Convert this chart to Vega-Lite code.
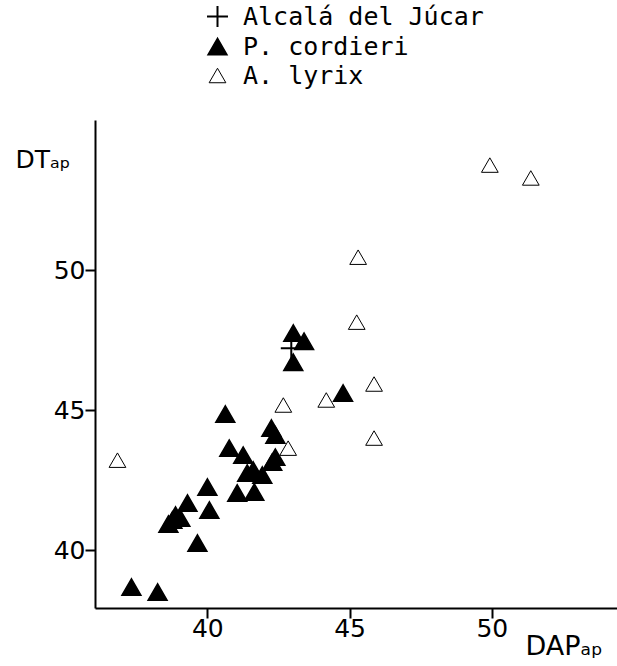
{
  "$schema": "https://vega.github.io/schema/vega-lite/v6.json",
  "width": 522,
  "height": 488,
  "autosize": {"type": "none"},
  "padding": {"left": 95, "top": 120, "right": 0, "bottom": 58},
  "background": "white",
  "config": {"view": {"stroke": null}, "axis": {"ticks": true, "tickOpacity": 1, "tickColor": "black", "tickWidth": 2}},
  "data": {
    "values": [
      {"taxon": "P. cordieri", "dap": 43.02, "dt": 47.75},
      {"taxon": "P. cordieri", "dap": 43.40, "dt": 47.46},
      {"taxon": "P. cordieri", "dap": 43.02, "dt": 46.71},
      {"taxon": "P. cordieri", "dap": 44.77, "dt": 45.61},
      {"taxon": "P. cordieri", "dap": 40.63, "dt": 44.86},
      {"taxon": "P. cordieri", "dap": 42.25, "dt": 44.36},
      {"taxon": "P. cordieri", "dap": 42.39, "dt": 44.11},
      {"taxon": "P. cordieri", "dap": 40.77, "dt": 43.64},
      {"taxon": "P. cordieri", "dap": 41.26, "dt": 43.39},
      {"taxon": "P. cordieri", "dap": 42.39, "dt": 43.32},
      {"taxon": "P. cordieri", "dap": 42.28, "dt": 43.14},
      {"taxon": "P. cordieri", "dap": 41.40, "dt": 42.75},
      {"taxon": "P. cordieri", "dap": 41.61, "dt": 42.86},
      {"taxon": "P. cordieri", "dap": 41.93, "dt": 42.68},
      {"taxon": "P. cordieri", "dap": 40.00, "dt": 42.25},
      {"taxon": "P. cordieri", "dap": 41.05, "dt": 42.04},
      {"taxon": "P. cordieri", "dap": 41.65, "dt": 42.07},
      {"taxon": "P. cordieri", "dap": 39.30, "dt": 41.68},
      {"taxon": "P. cordieri", "dap": 40.07, "dt": 41.43},
      {"taxon": "P. cordieri", "dap": 38.88, "dt": 41.25},
      {"taxon": "P. cordieri", "dap": 38.77, "dt": 41.07},
      {"taxon": "P. cordieri", "dap": 39.05, "dt": 41.14},
      {"taxon": "P. cordieri", "dap": 38.63, "dt": 40.93},
      {"taxon": "P. cordieri", "dap": 39.65, "dt": 40.25},
      {"taxon": "P. cordieri", "dap": 37.33, "dt": 38.68},
      {"taxon": "P. cordieri", "dap": 38.25, "dt": 38.50},
      {"taxon": "Alcalá del Júcar", "dap": 42.95, "dt": 47.21},
      {"taxon": "A. lyrix", "dap": 36.84, "dt": 43.21},
      {"taxon": "A. lyrix", "dap": 42.67, "dt": 45.18},
      {"taxon": "A. lyrix", "dap": 44.18, "dt": 45.36},
      {"taxon": "A. lyrix", "dap": 42.84, "dt": 43.64},
      {"taxon": "A. lyrix", "dap": 45.25, "dt": 48.14},
      {"taxon": "A. lyrix", "dap": 45.30, "dt": 50.46},
      {"taxon": "A. lyrix", "dap": 45.86, "dt": 45.93},
      {"taxon": "A. lyrix", "dap": 45.86, "dt": 44.00},
      {"taxon": "A. lyrix", "dap": 49.93, "dt": 53.75},
      {"taxon": "A. lyrix", "dap": 51.37, "dt": 53.29}
    ]
  },
  "mark": {"type": "point", "stroke": "black", "opacity": 1, "filled": true},
  "encoding": {
    "x": {
      "field": "dap", "type": "quantitative",
      "scale": {"domain": [36.05, 54.4], "nice": false, "zero": false},
      "axis": {
        "values": [40, 45, 50], "grid": false, "title": "DAPₐₚ", "ticks": true, "tickSize": 10,
        "domainColor": "black", "domainWidth": 2, "tickColor": "black", "tickWidth": 2, "tickOpacity": 1,
        "labelPadding": -2, "labelFont": "DejaVu Sans", "labelFontSize": 25, "labelColor": "black",
        "titleFont": "DejaVu Sans", "titleFontSize": 27, "titleFontWeight": "normal", "titleColor": "black",
        "titleAlign": "left", "titleBaseline": "alphabetic", "titleX": 430, "titleY": 46,
        "encode": {"ticks": {"update": {"y": {"value": 0}, "y2": {"value": -10}, "stroke": {"value": "black"}, "strokeWidth": {"value": 2}, "opacity": {"value": 1}}}}
      }
    },
    "y": {
      "field": "dt", "type": "quantitative",
      "scale": {"domain": [37.93, 55.36], "nice": false, "zero": false},
      "axis": {
        "values": [40, 45, 50], "grid": false, "title": "DTₐₚ", "ticks": true, "tickSize": 10,
        "domainColor": "black", "domainWidth": 2, "tickColor": "black", "tickWidth": 2, "tickOpacity": 1,
        "labelPadding": 0, "labelFont": "DejaVu Sans", "labelFontSize": 25, "labelColor": "black",
        "titleFont": "DejaVu Sans", "titleFontSize": 25, "titleFontWeight": "normal", "titleColor": "black",
        "titleAngle": 0, "titleAlign": "left", "titleBaseline": "alphabetic", "titleX": -80, "titleY": 47,
        "encode": {"ticks": {"update": {"x": {"value": 0}, "x2": {"value": 10}, "stroke": {"value": "black"}, "strokeWidth": {"value": 2}, "opacity": {"value": 1}}}}
      }
    },
    "shape": {
      "field": "taxon", "type": "nominal",
      "scale": {"domain": ["Alcalá del Júcar", "P. cordieri", "A. lyrix"], "range": ["M-1,0H1M0,-1V1", "triangle-up", "triangle-up"]},
      "legend": {
        "title": null, "orient": "none", "legendX": 110, "legendY": -116,
        "labelFont": "DejaVu Sans Mono", "labelFontSize": 25, "labelColor": "black", "labelOffset": 13,
        "rowPadding": 3, "labelLimit": 400,
        "encode": {"labels": {"update": {"fontStyle": {"signal": "datum.label === 'Alcalá del Júcar' ? 'normal' : 'italic'"}}}}
      }
    },
    "fill": {
      "field": "taxon", "type": "nominal",
      "scale": {"domain": ["Alcalá del Júcar", "P. cordieri", "A. lyrix"], "range": ["black", "black", "white"]}
    },
    "size": {
      "field": "taxon", "type": "nominal",
      "scale": {"domain": ["Alcalá del Júcar", "P. cordieri", "A. lyrix"], "range": [440, 280, 250]}
    },
    "strokeWidth": {
      "field": "taxon", "type": "nominal",
      "scale": {"domain": ["Alcalá del Júcar", "P. cordieri", "A. lyrix"], "range": [2, 1, 3]}
    }
  }
}
